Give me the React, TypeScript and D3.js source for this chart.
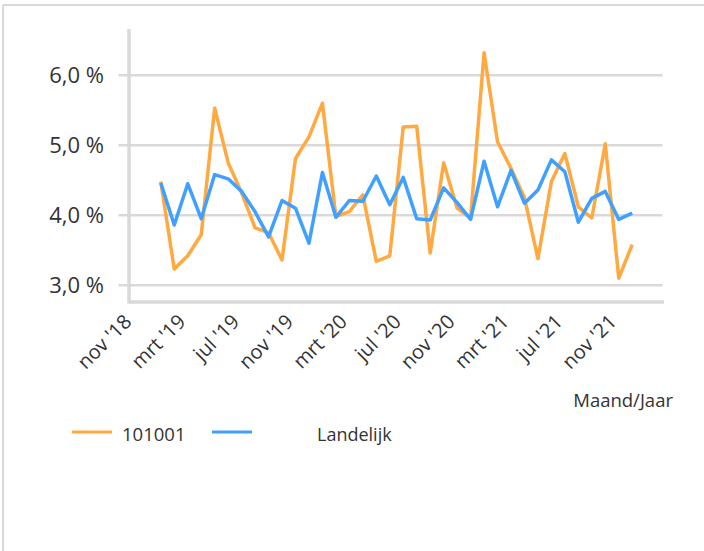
import * as d3 from 'd3';

// month categories on the x axis (Excel date axis, one slot per month)
const months = [
  "nov '18", "dec '18",
  "jan '19", "feb '19", "mrt '19", "apr '19", "mei '19", "jun '19", "jul '19", "aug '19", "sep '19", "okt '19", "nov '19", "dec '19",
  "jan '20", "feb '20", "mrt '20", "apr '20", "mei '20", "jun '20", "jul '20", "aug '20", "sep '20", "okt '20", "nov '20", "dec '20",
  "jan '21", "feb '21", "mrt '21", "apr '21", "mei '21", "jun '21", "jul '21", "aug '21", "sep '21", "okt '21", "nov '21", "dec '21",
  "jan '22", "feb '22",
];

const tickLabels = ["nov '18", "mrt '19", "jul '19", "nov '19", "mrt '20", "jul '20", "nov '20", "mrt '21", "jul '21", "nov '21"];
const yTicks = [3, 4, 5, 6];

// jan '19 .. dec '21
const dataMonths = months.slice(2, 38);
const local101001 = [
  4.48, 3.23, 3.42, 3.72, 5.53, 4.75, 4.32, 3.82, 3.75, 3.36, 4.81, 5.12,
  5.6, 3.98, 4.05, 4.29, 3.34, 3.42, 5.26, 5.27, 3.46, 4.75, 4.1, 3.96,
  6.32, 5.05, 4.67, 4.25, 3.38, 4.48, 4.88, 4.12, 3.96, 5.02, 3.1, 3.58,
];
const landelijk = [
  4.46, 3.86, 4.45, 3.95, 4.58, 4.52, 4.34, 4.05, 3.69, 4.21, 4.1, 3.6,
  4.61, 3.97, 4.21, 4.2, 4.56, 4.15, 4.54, 3.95, 3.93, 4.39, 4.18, 3.94,
  4.77, 4.12, 4.64, 4.17, 4.36, 4.79, 4.62, 3.9, 4.24, 4.34, 3.94, 4.03,
];

const ORANGE = '#ffa940';
const BLUE = '#40a0ff';
const GRID = '#d9d9d9';
const TEXT = '#333333';
const FONT = '"Open Sans", sans-serif';

export default function App() {
  const width = 704;
  const height = 551;
  const margin = { left: 129, right: 40, top: 29, bottom: 249 };

  const x = d3.scalePoint<string>()
    .domain(months)
    .range([margin.left, width - margin.right])
    .padding(0.36);

  const y = d3.scaleLinear()
    .domain([2.76, 6.66])
    .range([height - margin.bottom, margin.top]);

  const line = d3.line<number>()
    .x((_, i) => x(dataMonths[i])!)
    .y((d) => y(d));

  const fmt = (v: number) => d3.format('.1f')(v).replace('.', ',') + ' %';

  const [y0, y1] = y.range();

  return (
    <svg width={width} height={height} style={{ position: 'absolute', left: 0, top: 0, background: '#fff' }}>
      {/* outer frame */}
      <line x1={3} x2={width} y1={5} y2={5} stroke={GRID} strokeWidth={2} />
      <line x1={3} x2={3} y1={5} y2={height} stroke={GRID} strokeWidth={2} />

      {/* grid */}
      {yTicks.map((t) => (
        <g key={t}>
          <line x1={margin.left - 10.5} x2={width - margin.right - 1.5} y1={y(t)} y2={y(t)} stroke={GRID} strokeWidth={2.5} />
          <text x={104} y={y(t)} dy="0.35em" textAnchor="end" fontFamily={FONT} fontSize={22} fill={TEXT}>
            {fmt(t)}
          </text>
        </g>
      ))}

      {/* axes */}
      <line x1={margin.left} x2={margin.left} y1={y1} y2={y0 + 1.5} stroke={GRID} strokeWidth={3.5} />
      <line x1={margin.left} x2={width - margin.right} y1={y0} y2={y0} stroke={GRID} strokeWidth={3.5} />

      {tickLabels.map((m) => (
        <text
          key={m}
          transform={`translate(${x(m)! - 1},${y0 + 21}) rotate(-45)`}
          textAnchor="end"
          fontFamily={FONT}
          fontSize={20}
          fill={TEXT}
        >
          {m}
        </text>
      ))}

      <text x={673} y={407} textAnchor="end" fontFamily={FONT} fontSize={18.5} fill={TEXT}>
        Maand/Jaar
      </text>

      {/* series */}
      <path d={line(local101001) ?? ''} fill="none" stroke={ORANGE} strokeWidth={3.5} strokeLinejoin="round" />
      <path d={line(landelijk) ?? ''} fill="none" stroke={BLUE} strokeWidth={3.5} strokeLinejoin="round" />

      {/* legend */}
      <line x1={72} x2={112} y1={432} y2={432} stroke={ORANGE} strokeWidth={3} />
      <text x={122} y={441} fontFamily={FONT} fontSize={18.5} fill={TEXT}>101001</text>
      <line x1={212} x2={252} y1={432} y2={432} stroke={BLUE} strokeWidth={3} />
      <text x={317} y={441} fontFamily={FONT} fontSize={18} fill={TEXT}>Landelijk</text>
    </svg>
  );
}
